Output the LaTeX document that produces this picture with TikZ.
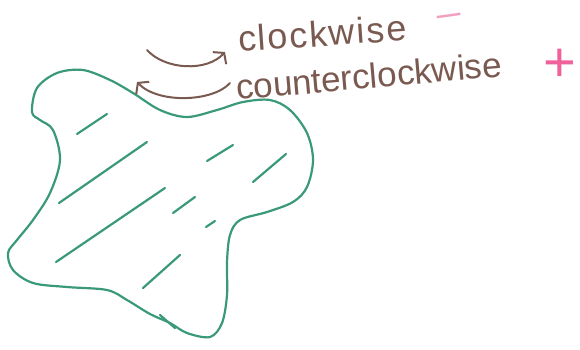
\documentclass[tikz,border=0pt]{standalone}
\usepackage{fontspec}
\setmainfont{Liberation Sans}
\usetikzlibrary{arrows.meta}
\definecolor{inkbrown}{HTML}{7A5A50}
\definecolor{inkgreen}{HTML}{3A9A78}
\definecolor{inkpink}{HTML}{F0609A}
\definecolor{inkpinklight}{HTML}{F2A0C0}
\begin{document}
\begin{tikzpicture}[x=1pt,y=-1pt,
  blob/.style={draw=inkgreen,line width=2.2pt,line join=round},
  hatch/.style={draw=inkgreen,line width=2.2pt,line cap=round},
  turn/.style={draw=inkbrown,line width=2pt,line cap=round,
    -{Straight Barb[length=7pt,width=18pt,line width=2pt]}},
  word/.style={text=inkbrown,inner sep=0pt,anchor=base west},
  sign/.style={inner sep=0pt,anchor=base}]
\useasboundingbox (0,0) rectangle (580,349);
% blob outline
\draw[blob] plot[smooth cycle,tension=0.55] coordinates {
  (32,112) (37,88) (57,73) (83,70) (110,80) (133,93) (160,110) (187,117)
  (217,110) (243,102) (270,100) (290,110) (307,133) (313,160) (307,187)
  (293,202) (267,212) (240,220) (230,235) (227,262) (227,295) (222,323)
  (210,337) (187,333) (170,323) (150,314) (127,300) (107,290) (67,287)
  (33,283) (13,270) (8,253) (17,240) (33,220) (50,193) (60,160) (53,130)
  (40,120)};
% small tick on the bottom edge
\draw[hatch] (160,315) -- (175,328);
% hatching
\draw[hatch] (77,134) -- (107,114);
\draw[hatch] (59,203) -- (147,142);
\draw[hatch] (207,161) -- (233,145);
\draw[hatch] (253,182) -- (286,154);
\draw[hatch] (56,262) -- (165,188);
\draw[hatch] (173,213) -- (195,197);
\draw[hatch] (206,227) -- (215,221);
\draw[hatch] (143,288) -- (180,255);
% arrows
\coordinate (cwS) at (147,50);
\coordinate (cwE) at (225,52);
\coordinate (ccS) at (230,83);
\coordinate (ccE) at (137,82);
\draw[turn] (cwS) .. controls (165,70) and (207,72) .. (cwE);
\draw[turn] (ccS) .. controls (213,102) and (158,104) .. (ccE);
% labels
\node[word,rotate=4,font=\fontsize{36}{40}\selectfont\addfontfeature{LetterSpace=5}] (cw) at (239,52) {clockwise};
\node[word,rotate=5,font=\fontsize{35}{40}\selectfont] (ccw) at (237,100) {counterclockwise};
\node[sign,text=inkpinklight,rotate=8,font=\fontsize{28}{32}\selectfont] (minus) at (451,28) {\scalebox{1.75}[1.25]{−}};
\node[sign,text=inkpink,font=\fontsize{56}{60}\selectfont] (plus) at (560,81) {+};
\end{tikzpicture}
\end{document}
